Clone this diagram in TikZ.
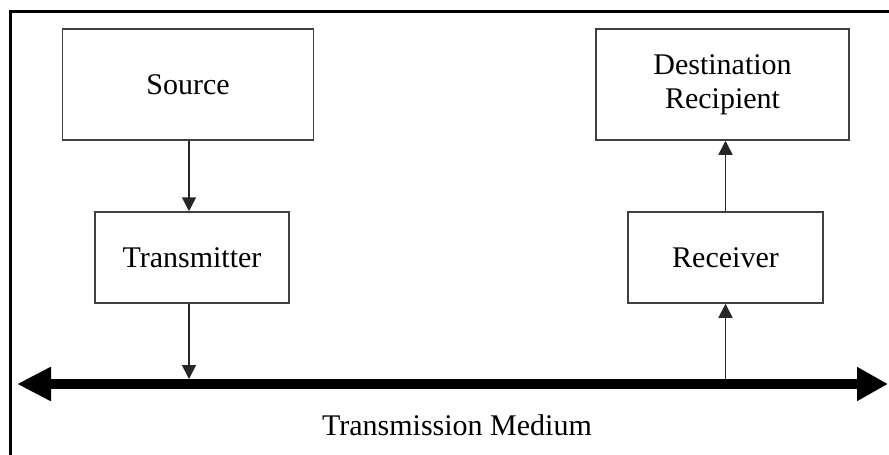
\documentclass[tikz,border=0pt]{standalone}
\usepackage{fontspec}
\setmainfont{Liberation Serif}
\usetikzlibrary{arrows.meta}
\usetikzlibrary{positioning}

\begin{document}
\begin{tikzpicture}[x=1pt,y=-1pt,
	blockbox/.style={draw=black!75, line width=1.5pt, inner sep=0pt,
		align=center, font=\fontsize{30}{34}\selectfont},
	conn/.style={draw=black!85, line width=1.6pt,
		-{Triangle[width=14pt,length=14pt]}},
	medium/.style={line width=10pt,
		{Triangle[width=32pt,length=34pt]}-{Triangle[width=32pt,length=31pt]}}
	]
	\useasboundingbox (0,0) rectangle (889,455);
	\clip (0,0) rectangle (889,455);
	% frame (right and bottom sides lie outside the picture)
	\draw[line width=3pt] (10,470) |- (900,11);

	\node[blockbox, minimum width=251pt, minimum height=111pt] (src) at (188,84.5) {Source};
	\node[blockbox, minimum width=253pt, minimum height=111pt] (dest) at (722.5,84.5) {Destination\\Recipient};
	\node[blockbox, minimum width=194pt, minimum height=91pt] (trans) at (192,257.5) {Transmitter};
	\node[blockbox, minimum width=195pt, minimum height=91pt] (rec) at (725.5,257.5) {Receiver};

	\coordinate (medL) at (17,384);
	\coordinate (medR) at (888,384);
	\draw[medium] (medL) -- (medR);
	\node[font=\fontsize{30}{34}\selectfont] (medlabel) at (457,425) {Transmission Medium};

	\draw[conn] (src.south -| 189,0) -- (trans.north -| 189,0);
	\draw[conn, shorten >=5pt] (trans.south -| 189,0) -- (medL -| 189,0);
	\draw[conn, shorten <=5pt] (medL -| rec.south) -- (rec.south);
	\draw[conn] (rec.north) -- (rec.north |- dest.south);
\end{tikzpicture}
\end{document}
